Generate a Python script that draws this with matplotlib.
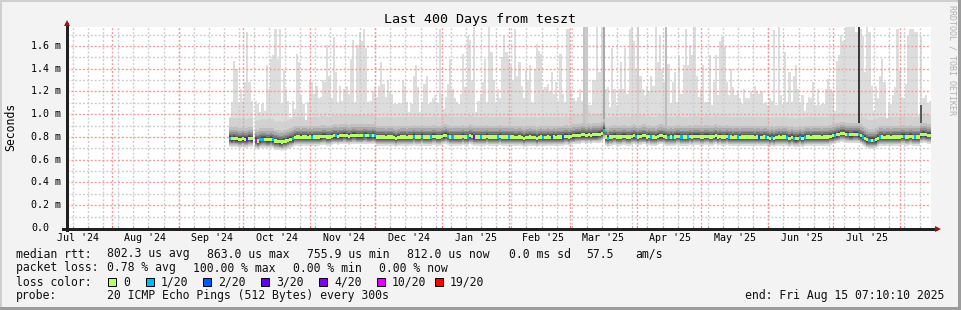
import datetime as dt
import numpy as np
import matplotlib
matplotlib.use('Agg')
import matplotlib.pyplot as plt
import matplotlib.dates as mdates
from matplotlib.patches import Rectangle
from matplotlib.transforms import blended_transform_factory

nan = float('nan')

end = dt.datetime(2025, 8, 15, 7, 10, 10)
start = end - dt.timedelta(days=400)

# daily max ping (ms), last value = last day before "end"
rtt_max = [
    0.98, 1.11, 1.47, 1.40, 1.11, 1.22, 1.12, 1.28, 1.72, 1.28,
    1.12, nan, 1.12, 1.09, 1.02, 1.09, 1.03, 1.43, 1.22, 1.49,
    1.52, 1.75, 1.49, 1.75, 1.09, 1.39, 1.22, 1.12, 0.98, 1.12,
    1.05, 1.53, 1.46, 1.17, 1.09, 0.95, 1.11, 1.30, 1.28, 1.18,
    1.25, 1.14, 1.15, 1.30, 1.28, 1.61, 1.34, 1.14, 1.68, 1.37,
    1.11, 1.25, 1.12, 1.22, 1.25, 1.18, 1.49, 1.65, 1.11, 1.61,
    1.72, 1.64, 1.75, 1.58, 1.11, 1.12, 1.20, 1.24, 1.15, 1.25,
    1.46, 1.27, 1.15, 1.30, 1.20, 1.18, 1.09, 1.09, 1.09, 1.10,
    1.30, 1.25, 1.11, 1.02, 1.09, 1.34, 1.43, 1.24, 1.02, 1.11,
    1.27, 1.34, 1.09, 1.11, 1.14, 1.17, 1.09, 1.75, 1.18, 1.05,
    1.15, 1.27, 1.49, 1.22, 1.14, 1.11, 1.09, 1.18, 1.53, 1.24,
    1.69, 1.65, 1.30, 1.77, 1.02, 1.12, 1.18, 1.28, 1.49, 1.11,
    1.78, 1.55, 1.30, 1.11, 1.22, 1.14, 1.50, 1.69, 1.55, 1.49,
    1.43, 1.30, 1.75, 1.34, 1.46, 1.25, 1.14, 1.39, 1.30, 1.43,
    1.11, 1.40, 1.62, 1.56, 1.53, 1.22, 1.24, 1.27, 1.20, 1.37,
    1.18, 1.28, 1.12, 1.53, 1.18, 1.11, 1.75, 1.75, 1.22, 1.14,
    1.12, 1.15, 1.22, 1.12, 1.72, 1.77, 1.08, 1.08, 1.30, 1.30,
    1.78, 1.37, 1.77, 1.28, 1.22, 1.24, 1.06, 1.58, 1.22, 1.08,
    1.22, 1.46, 1.22, 1.58, 1.18, 1.75, 1.78, 1.64, 1.40, 1.18,
    1.34, 1.22, 1.17, 1.25, 1.20, 1.34, 1.25, 1.77, 1.46, 1.69,
    1.40, 1.28, 1.22, 1.44, 1.09, 1.28, 1.37, 1.11, 1.52, 1.18,
    1.43, 1.75, 1.43, 1.61, 1.52, 1.78, 1.34, 1.15, 1.22, 1.43,
    1.11, 1.11, 1.52, 1.08, 1.28, 1.52, 1.17, 1.64, 1.68, 1.59,
    1.28, 1.17, 1.40, 1.24, 1.17, 1.20, 1.14, 1.09, 1.22, 1.14,
    1.14, 1.20, 1.18, 1.25, 1.20, 1.18, 1.20, 1.09, 1.11, 1.08,
    1.14, 1.12, 1.74, 1.08, 1.78, 1.17, 1.09, 1.55, 1.11, 1.37,
    1.11, 1.34, 1.43, 1.22, 1.11, 1.17, 1.03, 1.10, 1.15, 1.14,
    1.28, 1.08, 1.22, 1.08, 1.09, 1.09, 1.22, 1.31, 1.22, 1.20,
    1.03, 1.47, 1.52, 1.70, 1.64, 1.77, 1.77, 1.77, 1.77, 1.77,
    1.72, 1.78, 1.75, 1.69, 1.37, 1.77, 1.72, 1.25, 1.03, 1.25,
    1.14, 1.34, 1.49, 1.28, 0.97, 1.11, 1.09, 1.17, 1.24, 1.75,
    1.39, 1.15, 1.14, 1.27, 1.69, 1.75, 1.75, 1.72, 1.72, 0.99,
    1.68, 1.14, 1.17, 1.09, 1.12,
]

# daily median rtt (ms)
rtt_median = [
    0.790, 0.785, 0.790, 0.785, 0.780, 0.780, 0.785, 0.780, 0.780, 0.790,
    0.785, nan, 0.770, 0.765, 0.775, 0.780, 0.780, 0.775, 0.775, 0.780,
    0.775, 0.765, 0.760, 0.758, 0.756, 0.760, 0.765, 0.770, 0.780, 0.785,
    0.795, 0.800, 0.800, 0.798, 0.800, 0.800, 0.798, 0.800, 0.795, 0.800,
    0.800, 0.800, 0.802, 0.805, 0.805, 0.800, 0.800, 0.805, 0.810, 0.810,
    0.805, 0.810, 0.810, 0.815, 0.810, 0.805, 0.810, 0.815, 0.815, 0.810,
    0.810, 0.810, 0.812, 0.815, 0.810, 0.810, 0.812, 0.810, 0.800, 0.800,
    0.800, 0.800, 0.795, 0.800, 0.800, 0.800, 0.795, 0.790, 0.795, 0.800,
    0.800, 0.800, 0.795, 0.800, 0.800, 0.805, 0.800, 0.800, 0.800, 0.805,
    0.800, 0.800, 0.800, 0.800, 0.805, 0.805, 0.800, 0.800, 0.805, 0.810,
    0.815, 0.805, 0.800, 0.800, 0.800, 0.800, 0.800, 0.800, 0.805, 0.800,
    0.800, 0.810, 0.805, 0.800, 0.800, 0.800, 0.800, 0.800, 0.800, 0.805,
    0.800, 0.800, 0.800, 0.800, 0.800, 0.805, 0.800, 0.800, 0.800, 0.800,
    0.800, 0.800, 0.795, 0.795, 0.800, 0.795, 0.790, 0.795, 0.795, 0.800,
    0.795, 0.795, 0.790, 0.795, 0.800, 0.795, 0.795, 0.800, 0.795, 0.795,
    0.800, 0.795, 0.800, 0.800, 0.800, 0.805, 0.805, 0.800, 0.805, 0.810,
    0.815, 0.815, 0.815, 0.820, 0.820, 0.815, 0.820, 0.815, 0.820, 0.820,
    0.820, 0.825, 0.830, 0.860, 0.800, 0.790, 0.800, 0.800, 0.805, 0.800,
    0.800, 0.800, 0.805, 0.805, 0.800, 0.800, 0.805, 0.810, 0.805, 0.800,
    0.805, 0.810, 0.810, 0.800, 0.805, 0.800, 0.800, 0.795, 0.805, 0.810,
    0.810, 0.805, 0.800, 0.795, 0.800, 0.795, 0.800, 0.805, 0.805, 0.800,
    0.800, 0.800, 0.800, 0.805, 0.800, 0.805, 0.805, 0.805, 0.800, 0.800,
    0.805, 0.805, 0.800, 0.800, 0.805, 0.810, 0.800, 0.805, 0.800, 0.800,
    0.805, 0.800, 0.800, 0.795, 0.800, 0.800, 0.795, 0.800, 0.800, 0.800,
    0.800, 0.800, 0.800, 0.795, 0.800, 0.800, 0.795, 0.800, 0.800, 0.795,
    0.790, 0.795, 0.790, 0.795, 0.800, 0.795, 0.800, 0.800, 0.795, 0.790,
    0.795, 0.790, 0.785, 0.790, 0.795, 0.790, 0.795, 0.800, 0.800, 0.795,
    0.800, 0.800, 0.800, 0.800, 0.795, 0.800, 0.800, 0.800, 0.805, 0.810,
    0.815, 0.820, 0.825, 0.830, 0.830, 0.825, 0.825, 0.820, 0.820, 0.825,
    0.825, 0.820, 0.810, 0.800, 0.790, 0.775, 0.770, 0.770, 0.770, 0.775,
    0.790, 0.800, 0.800, 0.795, 0.800, 0.800, 0.795, 0.800, 0.800, 0.800,
    0.800, 0.805, 0.805, 0.800, 0.800, 0.805, 0.800, 0.800, 0.800, 0.800,
    0.820, 0.825, 0.820, 0.815, 0.815,
]

# days with packet loss: day index and lost pings out of 20
loss_idx = [0, 8, 12, 14, 15, 20, 29, 38, 49, 62, 65, 67, 85, 89, 93, 101,
            103, 110, 113, 116, 124, 129, 145, 149, 154, 173, 175, 188, 195,
            203, 205, 209, 212, 231, 235, 245, 248, 251, 258, 261, 264, 266,
            280, 286, 291, 293, 296, 298, 301, 312, 317]
loss_cnt = [1, 4, 10, 1, 1, 1, 1, 1, 1, 1, 1, 1, 1, 1, 1, 1,
            1, 1, 4, 1, 1, 1, 1, 2, 2, 1, 1, 1, 1,
            1, 1, 1, 1, 1, 1, 2, 1, 1, 1, 1, 1, 1,
            1, 1, 1, 1, 1, 1, 1, 1, 1]

# days where many pings were slow (darker smoke columns)
dark_idx = [164, 165, 173, 189, 202, 291, 320]
dark_top = [1.77, 1.77, 1.77, 1.77, 1.77, 1.77, 1.08]
dark_gray = ['#c4c4c4', '#cacaca', '#a8a8a8', '#cecece', '#bcbcbc', '#3c3c3c', '#5a5a5a']

# smoke bands around the median (ms above / below), outer to inner
smoke_up = [0.18, 0.10, 0.075, 0.055, 0.04, 0.028, 0.017, 0.008]
smoke_dn = [0.065, 0.058, 0.05, 0.042, 0.034, 0.025, 0.016, 0.008]
smoke_gray = ['#d2d2d2', '#c0c0c0', '#aaaaaa', '#909090', '#767676', '#5c5c5c', '#464646', '#333333']

loss_steps = [0, 1, 2, 3, 4, 10, 19]
loss_labels = ['0', '1/20', '2/20', '3/20', '4/20', '10/20', '19/20']
loss_colors = ['#b4ff6a', '#00b8ff', '#0059ff', '#5e00ff', '#7e00ff', '#dd00ff', '#ff0000']

assert len(rtt_max) == len(rtt_median), (len(rtt_max), len(rtt_median))

W, H = 961, 310
mono = 'DejaVu Sans Mono'
fs = 8.3

fig = plt.figure(figsize=(W / 100, H / 100), dpi=100)
fig.patch.set_facecolor('#f3f3f3')
ax = fig.add_axes([67 / W, (H - 228) / H, 864 / W, 201 / H])
ax.set_facecolor('white')
for s in ax.spines.values():
    s.set_visible(False)
ax.set_xticks([])
ax.set_yticks([])
x0, x1 = mdates.date2num(start), mdates.date2num(end)
ymax = 1.767
ax.set_xlim(x0, x1)
ax.set_ylim(0, ymax)

n = len(rtt_median)
med = np.array(rtt_median)
top = np.array(rtt_max)
x = x1 - n + np.arange(n)
ok = ~np.isnan(med)


def columns(idx, lo, hi, color, z):
    m = idx & (hi > lo)
    ax.bar(x[m], (hi - lo)[m], bottom=lo[m], width=1.0, align='edge',
           color=color, linewidth=0, antialiased=False, zorder=z)


columns(ok, med - 0.075, top, '#dddddd', 1)
columns(ok, med - smoke_dn[0], np.minimum(med + smoke_up[0], top), smoke_gray[0], 1.2)
for i, t, g in zip(dark_idx, dark_top, dark_gray):
    ax.bar(x[i], t - med[i] - 0.05, bottom=med[i] + 0.05, width=1.0, align='edge',
           color=g, linewidth=0, antialiased=False, zorder=4.5)
for up, dn, g in zip(smoke_up[1:], smoke_dn[1:], smoke_gray[1:]):
    columns(ok, med - dn, np.minimum(med + up, top), g, 4.6)

# median, coloured by loss
loss = np.zeros(n, dtype=int)
loss[loss_idx] = loss_cnt
mcol = []
for c in loss:
    k = max(j for j, s in enumerate(loss_steps) if c >= s)
    mcol.append(loss_colors[k])
mcol = np.array(mcol)
ax.bar(x[ok], 0.028, bottom=med[ok] - 0.014, width=1.0, align='edge',
       color=mcol[ok], linewidth=0, antialiased=False, zorder=5)

# dotted grid
weeks = []
d = dt.datetime(2024, 7, 14)
while d < end:
    weeks.append(d)
    d += dt.timedelta(days=7)
months = [dt.datetime(2024 + (7 + k) // 12, (7 + k) % 12 + 1, 1) for k in range(13)]
wx = [mdates.date2num(d) for d in weeks]
mx = [mdates.date2num(d) for d in months]
gkw = dict(lw=1.0, linestyles=[(0, (1.4, 1.4))], antialiased=True, zorder=4)
ax.vlines(wx, 0, ymax, colors='#cccccc', **gkw)
ax.hlines([k * 0.1 for k in range(1, 18, 2)], x0, x1, colors='#cccccc', **gkw)
ax.vlines(mx, 0, ymax, colors='#f39a9a', **gkw)
ax.hlines([k * 0.2 for k in range(1, 9)], x0, x1, colors='#f39a9a', **gkw)

# tick marks on the axes
tkw = dict(lw=0.72, antialiased=False, clip_on=False, zorder=6)
ax.vlines(wx, -0.018, 0.018, color='#b0b0b0', **tkw)
ax.vlines(mx, -0.018, 0.018, color='#ff6060', **tkw)

# x labels: mid of month
trx = blended_transform_factory(ax.transData, fig.transFigure)
for k in range(13):
    m0 = dt.datetime(2024 + (6 + k) // 12, (6 + k) % 12 + 1, 1)
    pos = m0 + dt.timedelta(days=15.5)
    if start < pos < end:
        ax.text(mdates.date2num(pos), 1 - 238 / H, m0.strftime("%b '%y"),
                transform=trx, ha='center', va='center', family=mono, fontsize=7.2,
                clip_on=False)

# y labels
try_ = blended_transform_factory(fig.transFigure, ax.transData)
for k in range(9):
    v = 0.2 * k
    lab = '0.0' if k == 0 else f'{v:.1f} m'
    ax.text(31 / W, v, lab, transform=try_, ha='left', va='center',
            family=mono, fontsize=7.2, clip_on=False)

# overlay in pixel coordinates for frame, axes arrows and legend
ov = fig.add_axes([0, 0, 1, 1])
ov.set_xlim(0, W)
ov.set_ylim(H, 0)
ov.axis('off')
ov.patch.set_alpha(0)

ov.add_patch(Rectangle((0, 0), W, 2, color='#cfcfcf', lw=0))
ov.add_patch(Rectangle((0, 0), 2, H, color='#cfcfcf', lw=0))
ov.add_patch(Rectangle((0, H - 3), W, 3, color='#9c9c9c', lw=0))
ov.add_patch(Rectangle((W - 3, 0), 3, H, color='#9c9c9c', lw=0))

ov.plot([67, 67], [230, 24], color='#202020', lw=0.8, antialiased=False)
ov.plot([63, 936], [228.5, 228.5], color='#202020', lw=0.8, antialiased=False)
ov.plot(67, 22.5, marker='^', ms=4, color='#8b1a1a', mew=0)
ov.plot(937.5, 228.5, marker='>', ms=4, color='#8b1a1a', mew=0)

ov.text(480, 19, 'Last 400 Days from teszt', ha='center', va='center',
        family=mono, fontsize=9.6)
ov.text(11, 127, 'Seconds', rotation=90, ha='center', va='center',
        family=mono, fontsize=fs)
ov.text(952, 60, 'RRDTOOL / TOBI OETIKER', rotation=270, ha='center', va='center',
        family=mono, fontsize=6, color='#b0b0b0')

tkw = dict(ha='left', va='center', family=mono, fontsize=fs, color='#111111')
for px, s in [(16, 'median rtt:'), (107, '802.3 us avg'), (207, '863.0 us max'),
              (307, '755.9 us min'), (407, '812.0 us now'), (509, '0.0 ms sd'),
              (586, '57.5'), (635, 'am/s')]:
    ov.text(px, 254, s, **tkw)
for px, s in [(16, 'packet loss:'), (107, '0.78 % avg'), (193, '100.00 % max'),
              (293, '0.00 % min'), (379, '0.00 % now')]:
    ov.text(px, 268, s, **tkw)
ov.text(16, 282, 'loss color:', **tkw)
for px, c, s in zip([108, 146, 203, 261, 319, 377, 435], loss_colors, loss_labels):
    ov.add_patch(Rectangle((px, 278), 8, 8, facecolor=c, edgecolor='black', lw=0.7))
    ov.text(px + 15, 282, s, **tkw)
ov.text(16, 296, 'probe:', **tkw)
ov.text(107, 296, '20 ICMP Echo Pings (512 Bytes) every 300s', **tkw)
ov.text(944, 296, 'end: Fri Aug 15 07:10:10 2025', ha='right', va='center',
        family=mono, fontsize=fs, color='#111111')

fig.savefig('out.png', dpi=100, facecolor=fig.get_facecolor())
